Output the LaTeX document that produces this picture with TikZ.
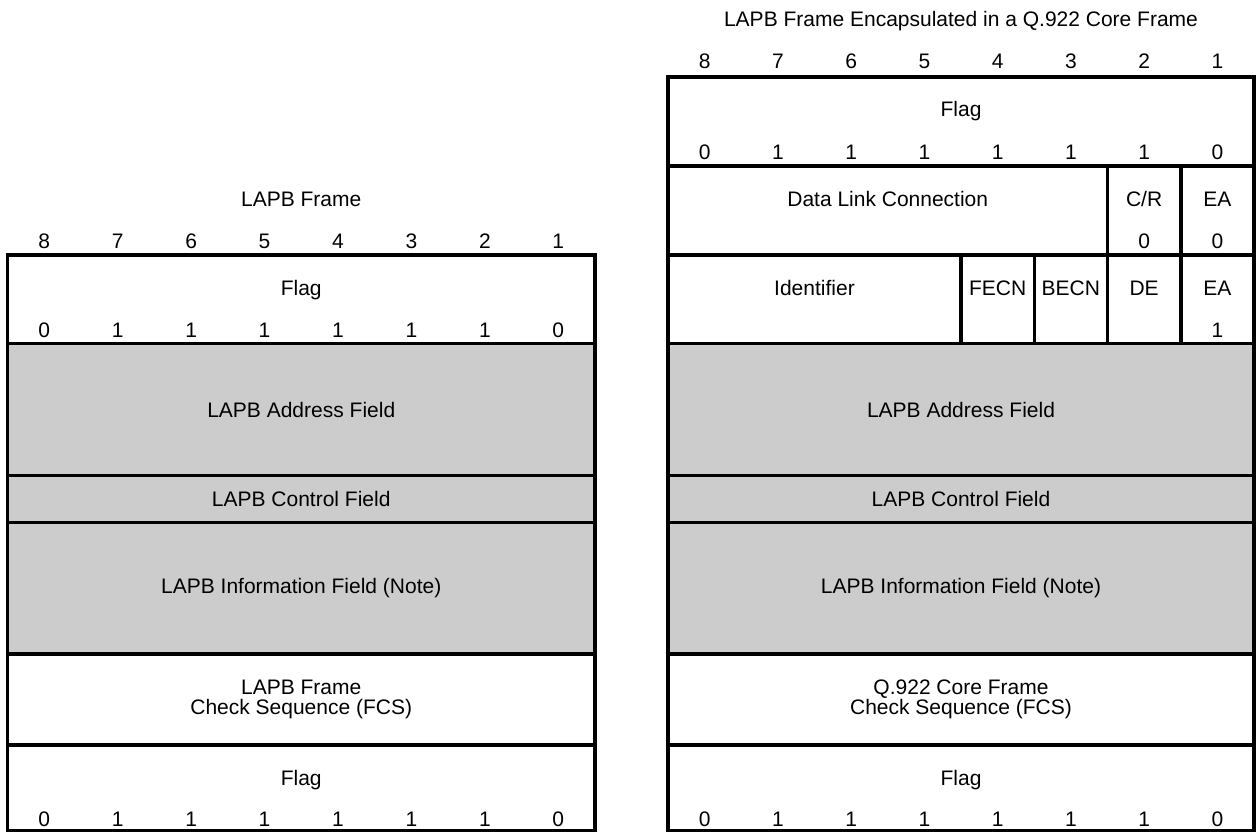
\documentclass[tikz,border=0pt]{standalone}
\usepackage{fontspec}
\setmainfont{Liberation Sans}
\definecolor{graycell}{RGB}{204,204,204}
\newcommand\labfont{\fontsize{21}{20}\selectfont}
\tikzset{
  frameline/.style={line width=3.5pt, draw=black},
  lbl/.style={font=\labfont, anchor=base, inner sep=0pt},
  clbl/.style={font=\labfont, anchor=center, inner sep=0pt, align=center},
}
\begin{document}
\begin{tikzpicture}[x=1pt,y=-1pt]
\useasboundingbox (0,0) rectangle (1256,832);
\def\La{7.5}\def\Lb{595}\def\Lw{73.4375}
\def\Ra{668}\def\Rb{1254}\def\Rw{73.25}
% gray fills
\fill[graycell] (\La,343.5) rectangle (\Lb,654);
\fill[graycell] (\Ra,343.5) rectangle (\Rb,654);
% left frame
\draw[frameline] (\La,255) rectangle (\Lb,830.5);
\foreach \y in {343.5,475.5,522.5,654,745} \draw[frameline] (\La,\y) -- (\Lb,\y);
% right frame
\draw[frameline] (\Ra,77) rectangle (\Rb,830.5);
\foreach \y in {166,255,343.5,475.5,522.5,654,745} \draw[frameline] (\Ra,\y) -- (\Rb,\y);
\draw[frameline] ({\Ra+6*\Rw},166) -- ({\Ra+6*\Rw},343.5);
\draw[frameline] ({\Ra+7*\Rw},166) -- ({\Ra+7*\Rw},343.5);
\draw[frameline] ({\Ra+4*\Rw},255) -- ({\Ra+4*\Rw},343.5);
\draw[frameline] ({\Ra+5*\Rw},255) -- ({\Ra+5*\Rw},343.5);
% titles
\node[lbl] (ltitle) at ({(\La+\Lb)/2},206) {LAPB Frame};
\node[lbl] (rtitle) at ({(\Ra+\Rb)/2},27) {LAPB Frame Encapsulated in a Q.922 Core Frame};
% bit numbers
\foreach \n [count=\i] in {8,7,6,5,4,3,2,1} {
  \node[lbl] (lbit\i) at ({\La+\Lw*(\i-0.5)},248) {\n};
  \node[lbl] (rbit\i) at ({\Ra+\Rw*(\i-0.5)},69) {\n};
}
% flag bits
\foreach \n [count=\i] in {0,1,1,1,1,1,1,0} {
  \node[lbl] (lftop\i) at ({\La+\Lw*(\i-0.5)},337) {\n};
  \node[lbl] (lfbot\i) at ({\La+\Lw*(\i-0.5)},826) {\n};
  \node[lbl] (rftop\i) at ({\Ra+\Rw*(\i-0.5)},160) {\n};
  \node[lbl] (rfbot\i) at ({\Ra+\Rw*(\i-0.5)},826) {\n};
}
% left labels
\node[lbl] (lflag1) at ({(\La+\Lb)/2},295) {Flag};
\node[clbl] (laddr) at ({(\La+\Lb)/2},409.5) {LAPB Address Field};
\node[clbl] (lctrl) at ({(\La+\Lb)/2},499) {LAPB Control Field};
\node[clbl] (linfo) at ({(\La+\Lb)/2},588) {LAPB Information Field (Note)};
\node[clbl] (lfcs) at ({(\La+\Lb)/2},699.5) {LAPB Frame\\Check Sequence (FCS)};
\node[lbl] (lflag2) at ({(\La+\Lb)/2},785) {Flag};
% right labels
\node[lbl] (rflag1) at ({(\Ra+\Rb)/2},117) {Flag};
\node[lbl] (dlc) at ({(\Ra+\Ra+6*\Rw)/2},206) {Data Link Connection};
\node[lbl] (cr) at ({\Ra+6.5*\Rw},206) {C/R};
\node[lbl] (ea0) at ({\Ra+7.5*\Rw},206) {EA};
\node[lbl] (crbit) at ({\Ra+6.5*\Rw},248) {0};
\node[lbl] (ea0bit) at ({\Ra+7.5*\Rw},248) {0};
\node[lbl] (ident) at ({\Ra+2*\Rw},295) {Identifier};
\node[lbl] (fecn) at ({\Ra+4.5*\Rw},295) {FECN};
\node[lbl] (becn) at ({\Ra+5.5*\Rw},295) {BECN};
\node[lbl] (de) at ({\Ra+6.5*\Rw},295) {DE};
\node[lbl] (ea1) at ({\Ra+7.5*\Rw},295) {EA};
\node[lbl] (ea1bit) at ({\Ra+7.5*\Rw},337) {1};
\node[clbl] (raddr) at ({(\Ra+\Rb)/2},409.5) {LAPB Address Field};
\node[clbl] (rctrl) at ({(\Ra+\Rb)/2},499) {LAPB Control Field};
\node[clbl] (rinfo) at ({(\Ra+\Rb)/2},588) {LAPB Information Field (Note)};
\node[clbl] (rfcs) at ({(\Ra+\Rb)/2},699.5) {Q.922 Core Frame\\Check Sequence (FCS)};
\node[lbl] (rflag2) at ({(\Ra+\Rb)/2},785) {Flag};
\end{tikzpicture}
\end{document}
